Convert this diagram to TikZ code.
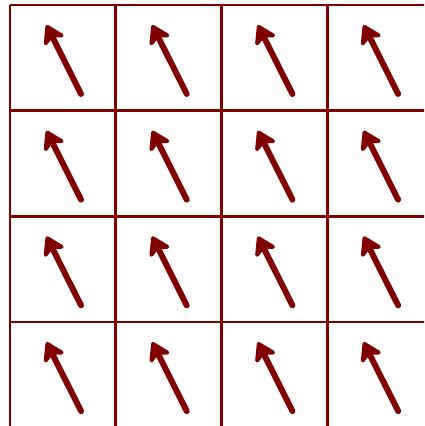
\documentclass[tikz,border=0pt]{standalone}
\usepackage{tikz}
\usetikzlibrary{arrows.meta}
\definecolor{spinred}{HTML}{800000}
\tikzset{>=latex}
\tikzset{
  cellgrid/.style={draw=spinred, line width=0.75pt},
  spin/.style={draw=spinred, line width=1.6pt, line cap=round,
    -{Stealth[round, length=6pt, width=7.5pt, inset=1.8pt]}}
}

\begin{document}
\begin{tikzpicture}[x=1cm, y=1cm]
  \useasboundingbox (-0.0946,0.0473) rectangle (3.917,-3.983);
  \clip (-0.0946,0.0473) rectangle (3.917,-3.983);
  \draw[cellgrid] (0,-4) grid (4,0);
  % one spin in every cell
  \foreach \i in {0,...,3}
    \foreach \j in {0,...,3}
      \draw[spin, shift={(\i,-\j)}] (0.672,-0.842) -- (0.345,-0.19);
\end{tikzpicture}
\end{document}
